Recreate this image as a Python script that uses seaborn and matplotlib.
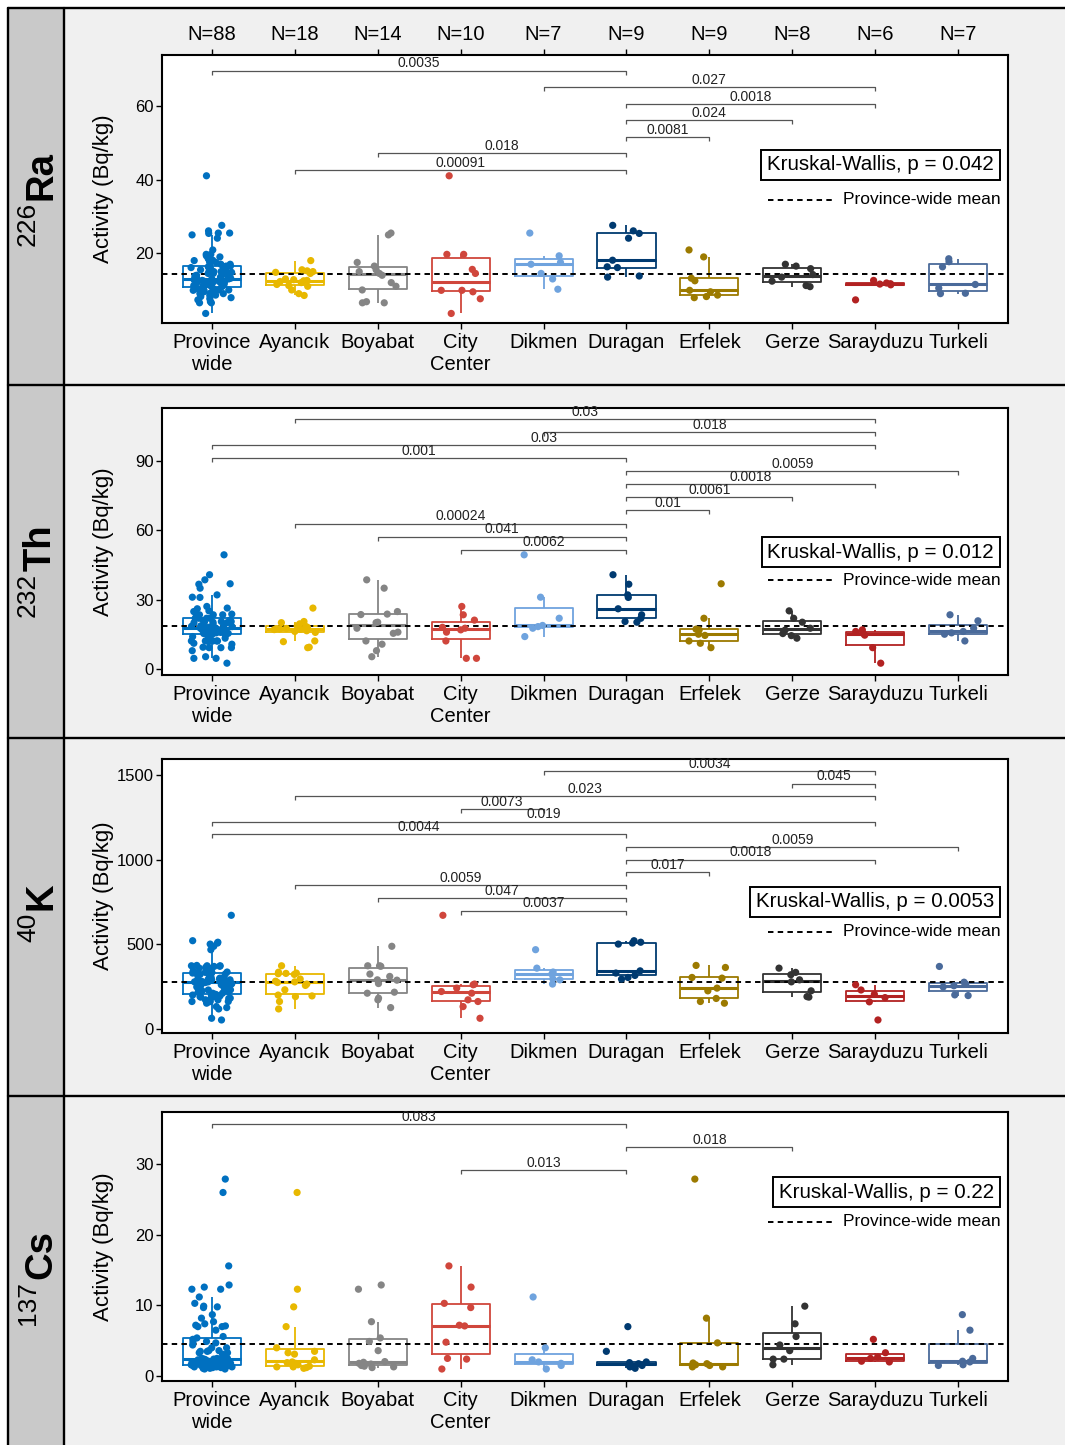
import numpy as np
import pandas as pd
import matplotlib
matplotlib.use("Agg")
import matplotlib.pyplot as plt
import seaborn as sns
from matplotlib.patches import Rectangle
from matplotlib.lines import Line2D
from matplotlib.font_manager import FontProperties

sns.set_theme(style="ticks")
plt.rcParams["font.family"] = ["Liberation Sans", "DejaVu Sans"]

# ---------------------------------------------------------------- data
districts = ["Ayancık", "Boyabat", "City Center", "Dikmen", "Duragan",
             "Erfelek", "Gerze", "Sarayduzu", "Turkeli"]
groups = ["Province wide"] + districts
tick_labels = ["Province\nwide", "Ayancık", "Boyabat", "City\nCenter", "Dikmen",
               "Duragan", "Erfelek", "Gerze", "Sarayduzu", "Turkeli"]
group_colors = ["#0070C0", "#E8B800", "#858585", "#D0463C", "#6FA3DE",
                "#003A70", "#9C7A00", "#333333", "#B22222", "#4A6A9A"]

# activity concentrations (Bq/kg) per district
ra226 = {
    "Ayancık": [18.0, 15.5, 15.2, 15.0, 14.8, 14.5, 13.0, 12.8, 12.6, 12.5, 12.3, 12.0, 11.5, 11.2, 11.0, 10.0, 9.0, 8.5],
    "Boyabat": [25.5, 25.0, 17.5, 16.5, 15.5, 15.0, 14.5, 14.0, 12.0, 11.0, 10.0, 6.8, 6.5, 6.5],
    "City Center": [41.1, 19.7, 19.7, 15.6, 14.5, 9.9, 9.9, 9.5, 7.6, 3.6],
    "Dikmen": [25.5, 19.3, 17.5, 17.0, 14.5, 13.0, 10.2],
    "Duragan": [27.6, 26.1, 25.4, 24.1, 18.1, 16.3, 16.1, 13.8, 13.5],
    "Erfelek": [20.9, 19.0, 13.2, 12.5, 9.9, 9.5, 8.6, 8.2, 7.9],
    "Gerze": [17.0, 16.5, 15.8, 14.2, 13.5, 12.4, 11.2, 10.9],
    "Sarayduzu": [12.6, 11.9, 11.7, 11.6, 11.4, 7.3],
    "Turkeli": [18.5, 17.7, 16.3, 11.5, 10.5, 9.1, 9.0],
}
th232 = {
    "Ayancık": [26.3, 20.5, 20.0, 19.5, 18.6, 18.4, 18.0, 17.5, 17.3, 17.1, 17.0, 16.5, 16.2, 15.8, 12.1, 11.8, 9.4, 9.2],
    "Boyabat": [38.5, 34.9, 24.8, 23.7, 23.5, 20.2, 20.0, 17.6, 15.9, 15.4, 12.1, 10.7, 7.9, 5.3],
    "City Center": [27.0, 23.4, 21.1, 18.0, 17.6, 16.9, 15.9, 12.1, 4.6, 4.6],
    "Dikmen": [49.3, 31.0, 21.9, 18.8, 18.3, 17.6, 14.0],
    "Duragan": [40.7, 36.6, 32.0, 30.9, 26.0, 23.4, 21.9, 20.5, 20.2],
    "Erfelek": [36.8, 21.9, 17.2, 16.9, 15.0, 14.5, 12.1, 11.1, 9.2],
    "Gerze": [25.1, 21.9, 20.2, 17.6, 16.8, 15.3, 14.4, 13.3],
    "Sarayduzu": [16.9, 16.2, 15.4, 14.6, 9.2, 2.5],
    "Turkeli": [23.4, 20.8, 17.6, 16.2, 15.6, 15.0, 12.1],
}
k40 = {
    "Ayancık": [373, 335, 330, 328, 326, 322, 295, 282, 278, 274, 265, 257, 231, 200, 195, 191, 162, 118],
    "Boyabat": [488, 373, 373, 370, 324, 310, 290, 288, 268, 217, 211, 182, 172, 126],
    "City Center": [671, 265, 261, 241, 221, 211, 172, 162, 132, 63],
    "Dikmen": [468, 359, 336, 324, 296, 290, 265],
    "Duragan": [521, 512, 507, 501, 343, 330, 316, 304, 294],
    "Erfelek": [375, 363, 304, 300, 241, 225, 180, 162, 152],
    "Gerze": [359, 334, 320, 290, 278, 225, 191, 188],
    "Sarayduzu": [261, 230, 205, 185, 160, 53],
    "Turkeli": [369, 276, 265, 255, 248, 201, 197],
}
cs137 = {
    "Ayancık": [26.0, 12.3, 9.8, 7.0, 4.0, 3.5, 3.3, 3.1, 2.3, 2.0, 1.9, 1.8, 1.6, 1.4, 1.3, 1.3, 1.2, 1.1],
    "Boyabat": [12.9, 12.3, 7.7, 5.4, 4.9, 3.6, 2.05, 1.95, 1.8, 1.7, 1.5, 1.4, 1.3, 1.2],
    "City Center": [15.6, 12.6, 10.3, 9.7, 7.2, 7.1, 4.8, 2.5, 2.4, 1.0],
    "Dikmen": [11.2, 4.0, 2.3, 2.0, 1.8, 1.5, 1.0],
    "Duragan": [7.0, 3.5, 2.0, 1.9, 1.75, 1.6, 1.5, 1.3, 1.1],
    "Erfelek": [27.9, 8.2, 4.7, 1.85, 1.75, 1.6, 1.5, 1.3, 1.3],
    "Gerze": [9.9, 7.4, 5.6, 4.4, 3.6, 2.4, 2.4, 1.6],
    "Sarayduzu": [5.2, 3.3, 2.7, 2.5, 2.1, 2.0],
    "Turkeli": [8.7, 6.5, 2.5, 2.1, 2.0, 1.6, 1.5],
}

# Kruskal-Wallis p-values
kw_p = ["0.042", "0.012", "0.0053", "0.22"]

# pairwise comparisons (lowest bracket first)
ra_pairs = [("Ayancık", "Duragan", "0.00091"), ("Boyabat", "Duragan", "0.018"),
            ("Duragan", "Erfelek", "0.0081"), ("Duragan", "Gerze", "0.024"),
            ("Duragan", "Sarayduzu", "0.0018"), ("Dikmen", "Sarayduzu", "0.027"),
            ("Province wide", "Duragan", "0.0035")]
th_pairs = [("City Center", "Duragan", "0.0062"), ("Boyabat", "Duragan", "0.041"),
            ("Ayancık", "Duragan", "0.00024"), ("Duragan", "Erfelek", "0.01"),
            ("Duragan", "Gerze", "0.0061"), ("Duragan", "Sarayduzu", "0.0018"),
            ("Duragan", "Turkeli", "0.0059"), ("Province wide", "Duragan", "0.001"),
            ("Province wide", "Sarayduzu", "0.03"), ("Dikmen", "Sarayduzu", "0.018"),
            ("Ayancık", "Sarayduzu", "0.03")]
k_pairs = [("City Center", "Duragan", "0.0037"), ("Boyabat", "Duragan", "0.047"),
           ("Ayancık", "Duragan", "0.0059"), ("Duragan", "Erfelek", "0.017"),
           ("Duragan", "Sarayduzu", "0.0018"), ("Duragan", "Turkeli", "0.0059"),
           ("Province wide", "Duragan", "0.0044"), ("Province wide", "Sarayduzu", "0.019"),
           ("City Center", "Dikmen", "0.0073"), ("Ayancık", "Sarayduzu", "0.023"),
           ("Gerze", "Sarayduzu", "0.045"), ("Dikmen", "Sarayduzu", "0.0034")]
cs_pairs = [("City Center", "Duragan", "0.013"), ("Duragan", "Gerze", "0.018"),
            ("Province wide", "Duragan", "0.083")]

# ---------------------------------------------------------------- layout
W, H = 1065, 1445
fig = plt.figure(figsize=(W / 100, H / 100), dpi=100)
fig.patch.set_facecolor("white")


def fx(px):
    return px / W


def fy(py):
    return 1 - py / H


panels = [
    dict(iso="Ra", mass="226", data=ra226, pairs=ra_pairs, ylim=(1, 74), yticks=[20, 40, 60],
         axpx=(55, 323), strip_c=199.5, base=42.7, step=4.5, kw_y=165, leg_y=200),
    dict(iso="Th", mass="232", data=th232, pairs=th_pairs, ylim=(-2.6, 112.7), yticks=[0, 30, 60, 90],
         axpx=(408, 675), strip_c=571, base=51.5, step=5.65, kw_y=552, leg_y=580),
    dict(iso="K", mass="40", data=k40, pairs=k_pairs, ylim=(-24, 1594), yticks=[0, 500, 1000, 1500],
         axpx=(759, 1033), strip_c=912.5, base=699, step=75.0, kw_y=902, leg_y=932),
    dict(iso="Cs", mass="137", data=cs137, pairs=cs_pairs, ylim=(-0.7, 37.4), yticks=[0, 10, 20, 30],
         axpx=(1112, 1381), strip_c=1278.5, base=29.2, step=3.25, kw_y=1192, leg_y=1222),
]
separators = [8, 385, 738, 1096]
dash = (0, (2.8, 2.2))

# grey panel background and strip column
fig.patches.append(Rectangle((fx(64), 0), 1 - fx(64), fy(8), transform=fig.transFigure,
                             facecolor="#F0F0F0", edgecolor="none", zorder=-3))
fig.patches.append(Rectangle((fx(8), 0), fx(64) - fx(8), fy(8), transform=fig.transFigure,
                             facecolor="#C9C9C9", edgecolor="none", zorder=-3))
frame_kw = dict(color="black", lw=1.7, transform=fig.transFigure, zorder=-2)
fig.add_artist(Line2D([fx(8), fx(8)], [fy(8), 0], **frame_kw))
fig.add_artist(Line2D([fx(64), fx(64)], [fy(8), 0], **frame_kw))
for s in separators:
    fig.add_artist(Line2D([fx(8), 1], [fy(s), fy(s)], **frame_kw))

pal = dict(zip(groups, group_colors))
renderer = fig.canvas.get_renderer()


def text_len(s, size, weight):
    fp = FontProperties(family=["Liberation Sans"], size=size, weight=weight)
    w, _, _ = renderer.get_text_width_height_descent(s, fp, ismath=False)
    return w


for pi, p in enumerate(panels):
    top, bot = p["axpx"]
    ax = fig.add_axes([fx(162), fy(bot), fx(1008) - fx(162), (bot - top) / H])
    ax.set_zorder(1)
    ax.set_facecolor("white")

    # long table: districts plus the province-wide pool of all samples
    rows = []
    for d in districts:
        for v in p["data"][d]:
            rows.append(("Province wide", v))
    for d in districts:
        for v in p["data"][d]:
            rows.append((d, v))
    df = pd.DataFrame(rows, columns=["group", "value"])
    counts = df.groupby("group")["value"].size().reindex(groups)
    prov_mean = df.loc[df["group"] == "Province wide", "value"].mean()

    sns.boxplot(data=df, x="group", y="value", hue="group", order=groups, hue_order=groups,
                palette=pal, fill=False, width=0.7, linewidth=1.3, showfliers=False,
                showcaps=False, medianprops=dict(linewidth=2.2), legend=False, ax=ax)
    ax.axhline(prov_mean, color="black", lw=1.4, ls=dash, zorder=2.5)
    np.random.seed(7 + pi)
    sns.stripplot(data=df, x="group", y="value", hue="group", order=groups, hue_order=groups,
                  palette=pal, jitter=0.25, size=5.2, linewidth=0, legend=False, ax=ax, zorder=3)

    ax.set_xlim(-0.6, 9.6)
    ax.set_ylim(*p["ylim"])
    ax.set_yticks(p["yticks"])
    ax.set_xticks(range(len(groups)))
    ax.set_xticklabels(tick_labels)
    ax.set_xlabel("")
    ax.set_ylabel("Activity (Bq/kg)", fontsize=16, color="black")
    ax.yaxis.set_label_coords((114 - 162) / 846, 0.5)
    ax.tick_params(axis="x", labelsize=14.5, length=4, width=1, pad=3, colors="black")
    ax.tick_params(axis="y", labelsize=12, length=4, width=1, pad=2, colors="black")
    for sp in ax.spines.values():
        sp.set_color("black")
        sp.set_linewidth(1.5)

    if pi == 0:
        sec = ax.secondary_xaxis("top")
        sec.set_xticks(range(len(groups)))
        sec.set_xticklabels([f"N={n}" for n in counts.values])
        sec.tick_params(length=4, width=1, pad=4, labelsize=14.5, colors="black")
        sec.spines["top"].set_visible(False)

    # significance brackets
    yr = p["ylim"][1] - p["ylim"][0]
    px_unit = yr / (bot - top)
    tip = 4 * px_unit
    for k, (g1, g2, lab) in enumerate(p["pairs"]):
        i, j = groups.index(g1), groups.index(g2)
        yb = p["base"] + k * p["step"]
        ax.plot([i, i, j, j], [yb - tip, yb, yb, yb - tip], color="#555555", lw=0.9,
                zorder=4, solid_capstyle="butt")
        ax.text((i + j) / 2, yb + 0.3 * px_unit, lab, ha="center", va="bottom",
                fontsize=10, color="#222222", zorder=5)

    # Kruskal-Wallis label and mean legend
    def afy(py):
        return 1 - (py - top) / (bot - top)

    ax.text((994 - 162) / 846, afy(p["kw_y"]), f"Kruskal-Wallis, p = {kw_p[pi]}",
            transform=ax.transAxes, ha="right", va="center", fontsize=14.8, color="black",
            bbox=dict(boxstyle="square,pad=0.28", facecolor="white", edgecolor="black", linewidth=1.4),
            zorder=6)
    ax.plot([(768 - 162) / 846, (836 - 162) / 846], [afy(p["leg_y"])] * 2, transform=ax.transAxes,
            color="black", lw=1.4, ls=dash, zorder=6)
    ax.text((843 - 162) / 846, afy(p["leg_y"]), "Province-wide mean", transform=ax.transAxes,
            ha="left", va="center", fontsize=12.5, color="black", zorder=6)

    # strip label: mass number superscript + element symbol, reading upward
    w_mass = text_len(p["mass"], 19, "normal")
    w_iso = text_len(p["iso"], 27, "bold")
    gap = 2
    y_start = p["strip_c"] + (w_mass + gap + w_iso) / 2
    fig.text(fx(35), fy(y_start), p["mass"], rotation=90, rotation_mode="anchor",
             ha="left", va="baseline", fontsize=19, color="black")
    fig.text(fx(51), fy(y_start - w_mass - gap), p["iso"], rotation=90, rotation_mode="anchor",
             ha="left", va="baseline", fontsize=27.5, fontweight="bold", color="black")

fig.savefig("out.png", dpi=100)
